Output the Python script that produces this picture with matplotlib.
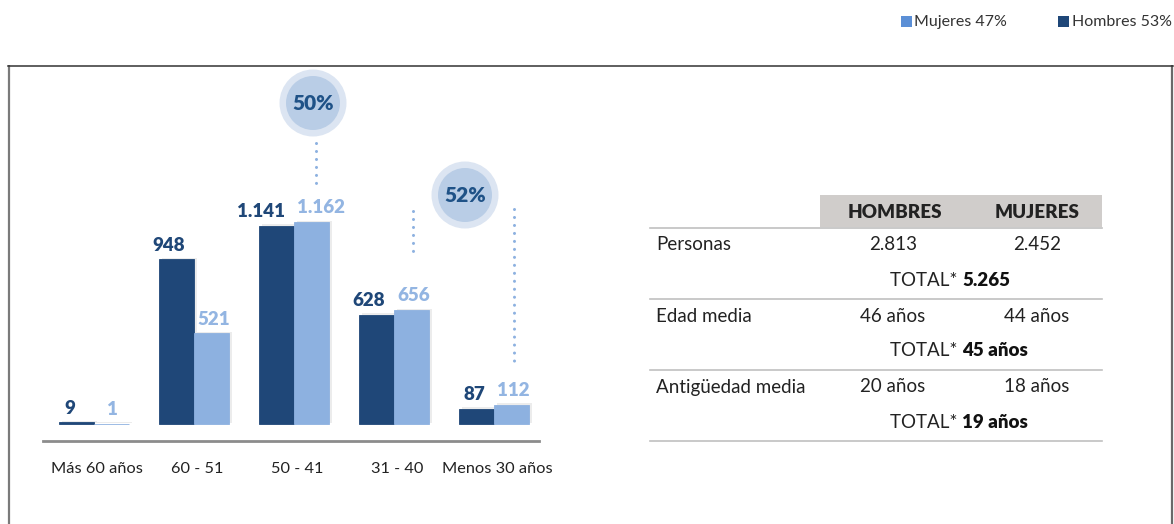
import numpy as np
import matplotlib.pyplot as plt
from matplotlib.patches import Circle, Rectangle
import matplotlib.patheffects as pe

plt.rcParams['font.family'] = ['Lato', 'DejaVu Sans']

# Plantilla por tramos de edad
grupos = ['Más 60 años', '60 - 51', '50 - 41', '31 - 40', 'Menos 30 años']
hombres = [9, 948, 1141, 628, 87]
mujeres = [1, 521, 1162, 656, 112]
etiquetas_h = ['9', '948', '1.141', '628', '87']
etiquetas_m = ['1', '521', '1.162', '656', '112']

leyenda = ['Mujeres 47%', 'Hombres 53%']
burbujas = ['50%', '52%']

# Tabla resumen
cabecera = ['HOMBRES', 'MUJERES']
filas = ['Personas', 'Edad media', 'Antigüedad media']
valores_h = ['2.813', '46 años', '20 años']
valores_m = ['2.452', '44 años', '18 años']
totales = ['5.265', '45 años', '19 años']

OSCURO = '#1f4778'
CLARO = '#8db1e0'
TXT_CLARO = '#93b5e2'

W, H = 1174, 524
fig = plt.figure(figsize=(W / 100, H / 100), dpi=100)

# capa de fondo en coordenadas de píxel
bg = fig.add_axes([0, 0, 1, 1])
bg.set_xlim(0, W)
bg.set_ylim(H, 0)
bg.axis('off')

# marco
bg.plot([8.5, 8.5], [65, H + 2], color='#7a7a7a', lw=1.6, solid_capstyle='butt')
bg.plot([1172, 1172], [65, H + 2], color='#6a6a6a', lw=1.6, solid_capstyle='butt')
bg.plot([8, 1172.5], [65.5, 65.5], color='#333333', lw=1.1)

# leyenda
bg.add_patch(Rectangle((901, 16), 11, 11, color='#5b8fd6', lw=0))
bg.text(914, 22, leyenda[0], fontsize=11.5, color='#333333', va='center', ha='left')
bg.add_patch(Rectangle((1058, 16), 11, 11, color=OSCURO, lw=0))
bg.text(1072, 22, leyenda[1], fontsize=11.5, color='#333333', va='center', ha='left')

# burbujas de porcentaje
for (cx, cy), txt in zip([(313, 103), (465, 195)], burbujas):
    bg.add_patch(Circle((cx, cy), 33.5, color='#dce5f2', lw=0))
    bg.add_patch(Circle((cx, cy), 27, color='#b9cde6', lw=0))
    bg.text(cx, cy + 1, txt, fontsize=15, fontweight='heavy', color='#1f5287',
            ha='center', va='center')

# líneas punteadas
for x, y0, y1 in [(316, 143, 184), (413, 211, 252), (513.5, 209, 363)]:
    bg.plot([x, x], [y0, y1], color=CLARO, lw=2.2,
            linestyle=(0, (0.01, 2.6)), dash_capstyle='round')

# tabla
x0, x1 = 650, 1101.5
bg.add_patch(Rectangle((820, 195), x1 - 820, 32, color='#d0cdcb', lw=0))
for txt, cx in zip(cabecera, [895, 1037]):
    bg.text(cx, 212, txt, fontsize=13.5, fontweight='heavy', color='#222222',
            ha='center', va='center')
for y in [228, 298.5, 370, 441]:
    bg.plot([x0, x1], [y, y], color='#c0c0c0', lw=1.2)

fs = 13.5
for i, (f, vh, vm, tot) in enumerate(zip(filas, valores_h, valores_m, totales)):
    yr = 245 + i * 71
    bg.text(656, yr, f, fontsize=fs, color='#222222', va='center', ha='left')
    bg.text(893, yr, vh, fontsize=fs, color='#222222', va='center', ha='center')
    bg.text(1037, yr, vm, fontsize=fs, color='#222222', va='center', ha='center')
    bg.text(962, yr + 35, 'TOTAL* ', fontsize=fs, color='#222222', va='center', ha='right')
    bg.text(962, yr + 35, tot, fontsize=fs, fontweight='heavy', color='#111111',
            va='center', ha='left')

# gráfico de barras
ax = fig.add_axes([43 / W, 1 - 441 / H, 496 / W, 376 / H])
ax.patch.set_alpha(0)
escala = 202 / 1162  # px por persona
ax.set_xlim(-0.51, 4.45)
ax.set_ylim(-17 / escala, -17 / escala + 376 / escala)

x = np.arange(len(grupos))
ancho = 0.35
sombra = [pe.SimplePatchShadow(offset=(2.5, 1), shadow_rgbFace='#999999', alpha=0.18), pe.Normal()]
bh = ax.bar(x - ancho / 2, hombres, ancho, color=OSCURO, edgecolor=OSCURO, lw=0.6, path_effects=sombra)
bm = ax.bar(x + ancho / 2, mujeres, ancho, color=CLARO, edgecolor=CLARO, lw=0.6, path_effects=sombra)

# etiquetas: hombres alineadas a la derecha del borde, mujeres a la izquierda
for xi, v, t in zip(x, hombres, etiquetas_h):
    if len(t) == 1:
        pos, dx, ha = xi - ancho / 2, -5, 'center'
    else:
        pos, dx, ha = xi, -6.5, 'right'
    ax.annotate(t, (pos, v), xytext=(dx, 4), textcoords='offset points', ha=ha,
                va='bottom', fontsize=13.5, fontweight='heavy', color=OSCURO)
for xi, v, t in zip(x, mujeres, etiquetas_m):
    if len(t) == 1:
        pos, dx, ha = xi + ancho / 2, 1, 'center'
    else:
        pos, dx, ha = xi, 2.5, 'left'
    ax.annotate(t, (pos, v), xytext=(dx, 4), textcoords='offset points', ha=ha,
                va='bottom', fontsize=13.5, fontweight='heavy', color=TXT_CLARO)

for s in ['top', 'right', 'left']:
    ax.spines[s].set_visible(False)
ax.spines['bottom'].set_color('#8c8c8c')
ax.spines['bottom'].set_linewidth(2)
ax.set_yticks([])
ax.set_xticks(x + 0.03)
ax.set_xticklabels(grupos, fontsize=11.8, color='#222222')
ax.tick_params(axis='x', length=0, pad=15)

fig.savefig('out.png', dpi=100)
